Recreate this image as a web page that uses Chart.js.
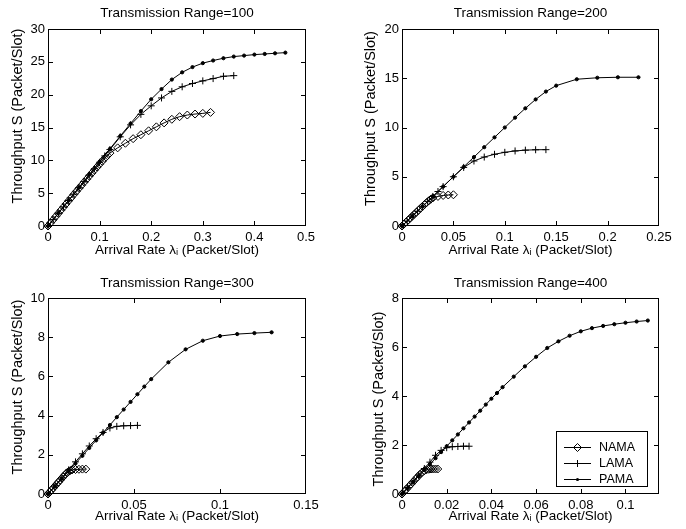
<!DOCTYPE html>
<html>
<head>
<meta charset="utf-8">
<script src="https://cdn.jsdelivr.net/npm/chart.js@4.4.1/dist/chart.umd.min.js"></script>
<style>
  html, body { margin: 0; padding: 0; background: #fff; }
  #wrap { position: relative; width: 686px; height: 529px; }
  canvas { position: absolute; }
</style>
</head>
<body>
<div id="wrap">
  <canvas id="c100" width="343" height="265" style="left:0;top:0"></canvas>
  <canvas id="c200" width="343" height="265" style="left:343px;top:0"></canvas>
  <canvas id="c300" width="343" height="264" style="left:0;top:265px"></canvas>
  <canvas id="c400" width="343" height="264" style="left:343px;top:265px"></canvas>
</div>
<script>
// Transmission range 100
const r100NamaX = [0, 0.005, 0.01, 0.015, 0.02, 0.025, 0.03, 0.035, 0.04, 0.045, 0.05, 0.055, 0.06, 0.065, 0.07, 0.075, 0.08, 0.085, 0.09, 0.095, 0.1, 0.105, 0.11, 0.115, 0.12, 0.135, 0.15, 0.165, 0.18, 0.195, 0.21, 0.225, 0.24, 0.255, 0.27, 0.285, 0.3, 0.315];
const r100NamaY = [0, 0.48, 0.96, 1.44, 1.92, 2.4, 2.88, 3.36, 3.84, 4.32, 4.8, 5.27, 5.74, 6.2, 6.67, 7.13, 7.6, 8.06, 8.52, 8.97, 9.42, 9.86, 10.3, 10.71, 11.1, 11.9, 12.6, 13.3, 13.9, 14.5, 15.1, 15.7, 16.25, 16.65, 16.9, 17.05, 17.15, 17.3];
const r100LamaX = [0, 0.01, 0.02, 0.03, 0.04, 0.05, 0.06, 0.07, 0.08, 0.09, 0.1, 0.11, 0.12, 0.14, 0.16, 0.18, 0.2, 0.22, 0.24, 0.26, 0.28, 0.3, 0.32, 0.34, 0.36];
const r100LamaY = [0, 0.97, 1.94, 2.91, 3.88, 4.85, 5.82, 6.79, 7.76, 8.73, 9.7, 10.67, 11.64, 13.58, 15.4, 17.0, 18.3, 19.5, 20.5, 21.2, 21.7, 22.1, 22.45, 22.8, 22.9];
const r100PamaX = [0, 0.02, 0.04, 0.06, 0.08, 0.1, 0.12, 0.14, 0.16, 0.18, 0.2, 0.22, 0.24, 0.26, 0.28, 0.3, 0.32, 0.34, 0.36, 0.38, 0.4, 0.42, 0.44, 0.46];
const r100PamaY = [0, 1.96, 3.92, 5.88, 7.84, 9.8, 11.75, 13.7, 15.6, 17.5, 19.3, 20.85, 22.3, 23.4, 24.2, 24.8, 25.2, 25.55, 25.8, 25.95, 26.1, 26.2, 26.3, 26.4];
const r100XTicks = [0, 0.1, 0.2, 0.3, 0.4, 0.5];
const r100YTicks = [0, 5, 10, 15, 20, 25, 30];

// Transmission range 200
const r200NamaX = [0, 0.002, 0.004, 0.006, 0.008, 0.01, 0.012, 0.014, 0.016, 0.018, 0.02, 0.022, 0.024, 0.026, 0.028, 0.03, 0.035, 0.04, 0.045, 0.05];
const r200NamaY = [0, 0.2, 0.4, 0.6, 0.8, 1.0, 1.2, 1.4, 1.6, 1.8, 2.0, 2.19, 2.38, 2.56, 2.72, 2.85, 3.0, 3.1, 3.15, 3.17];
const r200LamaX = [0, 0.005, 0.01, 0.015, 0.02, 0.025, 0.03, 0.035, 0.04, 0.05, 0.06, 0.07, 0.08, 0.09, 0.1, 0.11, 0.12, 0.13, 0.14];
const r200LamaY = [0, 0.5, 1.0, 1.5, 2.0, 2.5, 3.0, 3.5, 4.0, 5.0, 5.95, 6.6, 7.0, 7.28, 7.48, 7.62, 7.7, 7.74, 7.75];
const r200PamaX = [0, 0.01, 0.02, 0.03, 0.04, 0.05, 0.06, 0.07, 0.08, 0.09, 0.1, 0.11, 0.12, 0.13, 0.14, 0.15, 0.17, 0.19, 0.21, 0.23];
const r200PamaY = [0, 1, 2, 3, 4, 5, 6, 7, 8, 9, 10, 11, 11.95, 12.85, 13.65, 14.25, 14.9, 15.05, 15.1, 15.1];
const r200XTicks = [0, 0.05, 0.1, 0.15, 0.2, 0.25];
const r200YTicks = [0, 5, 10, 15, 20];

// Transmission range 300
const r300NamaX = [0, 0.001, 0.002, 0.003, 0.004, 0.005, 0.006, 0.007, 0.008, 0.009, 0.01, 0.011, 0.012, 0.013, 0.014, 0.016, 0.018, 0.02, 0.022];
const r300NamaY = [0, 0.1, 0.2, 0.3, 0.4, 0.5, 0.6, 0.7, 0.8, 0.9, 1.0, 1.08, 1.15, 1.2, 1.23, 1.25, 1.26, 1.27, 1.27];
const r300LamaX = [0, 0.004, 0.008, 0.012, 0.016, 0.02, 0.024, 0.028, 0.032, 0.036, 0.04, 0.044, 0.048, 0.052];
const r300LamaY = [0, 0.41, 0.82, 1.23, 1.64, 2.05, 2.45, 2.82, 3.14, 3.37, 3.45, 3.48, 3.49, 3.5];
const r300PamaX = [0, 0.004, 0.008, 0.012, 0.016, 0.02, 0.024, 0.028, 0.032, 0.036, 0.04, 0.044, 0.048, 0.052, 0.056, 0.06, 0.07, 0.08, 0.09, 0.1, 0.11, 0.12, 0.13];
const r300PamaY = [0, 0.39, 0.78, 1.17, 1.56, 1.95, 2.35, 2.74, 3.13, 3.52, 3.92, 4.31, 4.7, 5.09, 5.48, 5.86, 6.72, 7.38, 7.82, 8.06, 8.16, 8.21, 8.25];
const r300XTicks = [0, 0.05, 0.1, 0.15];
const r300YTicks = [0, 2, 4, 6, 8, 10];

// Transmission range 400
const r400NamaX = [0, 0.001, 0.002, 0.003, 0.004, 0.005, 0.006, 0.007, 0.008, 0.009, 0.01, 0.011, 0.012, 0.013, 0.014, 0.015, 0.016];
const r400NamaY = [0, 0.1, 0.2, 0.3, 0.4, 0.5, 0.6, 0.7, 0.8, 0.88, 0.95, 0.99, 1.01, 1.02, 1.02, 1.02, 1.02];
const r400LamaX = [0, 0.0025, 0.005, 0.0075, 0.01, 0.0125, 0.015, 0.0175, 0.02, 0.0225, 0.025, 0.0275, 0.03];
const r400LamaY = [0, 0.26, 0.52, 0.78, 1.04, 1.3, 1.58, 1.78, 1.89, 1.93, 1.94, 1.95, 1.95];
const r400PamaX = [0, 0.0025, 0.005, 0.0075, 0.01, 0.0125, 0.015, 0.0175, 0.02, 0.0225, 0.025, 0.0275, 0.03, 0.0325, 0.035, 0.0375, 0.04, 0.0425, 0.045, 0.05, 0.055, 0.06, 0.065, 0.07, 0.075, 0.08, 0.085, 0.09, 0.095, 0.1, 0.105, 0.11];
const r400PamaY = [0, 0.24, 0.49, 0.73, 0.98, 1.22, 1.46, 1.71, 1.95, 2.19, 2.43, 2.68, 2.92, 3.16, 3.4, 3.65, 3.89, 4.12, 4.36, 4.79, 5.21, 5.6, 5.96, 6.23, 6.46, 6.64, 6.77, 6.86, 6.93, 6.99, 7.04, 7.08];
const r400XTicks = [0, 0.02, 0.04, 0.06, 0.08, 0.1];
const r400YTicks = [0, 2, 4, 6, 8];

const seriesNames = ["NAMA", "LAMA", "PAMA"];
const FONT = '"Liberation Sans", Arial, Helvetica, sans-serif';

Chart.defaults.font.family = FONT;
Chart.defaults.font.size = 13;
Chart.defaults.color = "#000";

const styles = {
  NAMA: { pointStyle: "rectRot", pointRadius: 4, pointBackgroundColor: "rgba(0,0,0,0)" },
  LAMA: { pointStyle: "cross", pointRadius: 3.5, pointBackgroundColor: "rgba(0,0,0,0)" },
  PAMA: { pointStyle: "circle", pointRadius: 1.6, pointBackgroundColor: "#000" }
};

function pts(xs, ys) {
  return xs.map((x, i) => ({ x: x, y: ys[i] }));
}

// legend marker, same shapes as the dataset points
function marker(ctx, style, x, y) {
  const r = style.pointRadius;
  ctx.beginPath();
  if (style.pointStyle === "rectRot") {
    ctx.moveTo(x, y - r); ctx.lineTo(x + r, y); ctx.lineTo(x, y + r); ctx.lineTo(x - r, y); ctx.closePath();
    ctx.stroke();
  } else if (style.pointStyle === "cross") {
    ctx.moveTo(x - r, y); ctx.lineTo(x + r, y); ctx.moveTo(x, y - r); ctx.lineTo(x, y + r);
    ctx.stroke();
  } else {
    ctx.arc(x, y, r, 0, Math.PI * 2);
    ctx.fill();
  }
}

// Matlab style box, inward ticks on all sides, title, y label, legend
const matlabAxes = {
  id: "matlabAxes",
  afterDraw(chart, args, opts) {
    const { ctx, chartArea: a, scales: { x, y } } = chart;
    const L = Math.round(a.left), R = Math.round(a.right) - 1;
    const T = Math.round(a.top), B = Math.round(a.bottom) - 1;
    ctx.save();
    ctx.setTransform(1, 0, 0, 1, 0, 0);
    ctx.globalAlpha = 1;
    ctx.globalCompositeOperation = "source-over";
    ctx.setLineDash([]);
    ctx.lineWidth = 1;
    ctx.strokeStyle = "#000";
    ctx.fillStyle = "#000";

    // box
    ctx.fillRect(L, T, R - L + 1, 1);
    ctx.fillRect(L, B, R - L + 1, 1);
    ctx.fillRect(L, T, 1, B - T + 1);
    ctx.fillRect(R, T, 1, B - T + 1);
    // ticks pointing inwards
    opts.xTicks.forEach((v) => {
      const px = Math.min(R, Math.round(x.getPixelForValue(v)));
      ctx.fillRect(px, B - 4, 1, 4);
      ctx.fillRect(px, T + 1, 1, 4);
    });
    opts.yTicks.forEach((v) => {
      const py = Math.min(B, Math.round(y.getPixelForValue(v)));
      ctx.fillRect(L + 1, py, 4, 1);
      ctx.fillRect(R - 4, py, 4, 1);
    });

    ctx.textAlign = "center";
    ctx.textBaseline = "middle";
    ctx.font = "13.5px " + FONT;
    ctx.fillText(opts.title, (a.left + a.right) / 2, opts.titleY);

    ctx.save();
    ctx.translate(opts.yLabelX, opts.yLabelY);
    ctx.rotate(-Math.PI / 2);
    ctx.font = "14.5px " + FONT;
    ctx.fillText("Throughput S (Packet/Slot)", 0, 0);
    ctx.restore();

    if (opts.legend) {
      const bw = 92, bh = 56;
      const bx = R - 10 - bw, by = B - 6 - bh;
      ctx.fillStyle = "#fff";
      ctx.fillRect(bx, by, bw, bh);
      ctx.fillStyle = "#000";
      ctx.fillRect(bx, by, bw, 1);
      ctx.fillRect(bx, by + bh - 1, bw, 1);
      ctx.fillRect(bx, by, 1, bh);
      ctx.fillRect(bx + bw - 1, by, 1, bh);
      ctx.font = "12.5px " + FONT;
      ctx.textAlign = "left";
      seriesNames.forEach((name, i) => {
        const ry = Math.round(by + 16 + i * 16.2);
        ctx.fillRect(bx + 8, ry, 27, 1);
        marker(ctx, styles[name], bx + 21.5, ry + 0.5);
        ctx.fillText(name, bx + 43, ry + 0.5);
      });
    }
    ctx.restore();
  }
};

function buildChart(id, p) {
  const canvas = document.getElementById(id);
  const H = canvas.height, W = canvas.width;
  const datasets = seriesNames.map((name, i) => Object.assign({
    label: name,
    data: pts(p.series[i][0], p.series[i][1]),
    borderColor: "#000",
    borderWidth: 1,
    pointBorderColor: "#000",
    pointBorderWidth: 1,
    tension: 0,
    fill: false,
    clip: false
  }, styles[name]));

  return new Chart(canvas, {
    type: "line",
    data: { datasets: datasets },
    options: {
      responsive: false,
      animation: false,
      events: [],
      layout: { padding: { left: 0, top: p.top, right: W - p.right, bottom: 0 } },
      plugins: {
        legend: { display: false },
        tooltip: { enabled: false },
        matlabAxes: {
          title: p.title, titleY: p.titleY, yLabelX: p.yLabelX, yLabelY: p.yLabelY,
          xTicks: p.xTicks, yTicks: p.yTicks, legend: p.legend
        }
      },
      scales: {
        x: {
          type: "linear",
          min: 0,
          max: p.xMax,
          grid: { display: false, drawTicks: false },
          border: { display: false },
          afterBuildTicks: (s) => { s.ticks = p.xTicks.map((v) => ({ value: v })); },
          afterFit: (s) => { s.height = H - p.bottom; },
          ticks: { autoSkip: false, maxRotation: 0, padding: 4, callback: (v) => String(v) },
          title: {
            display: true,
            text: "Arrival Rate \u03bb\u1d62 (Packet/Slot)",
            font: { size: 13.5 },
            padding: { top: 0, bottom: p.xLabelPad }
          }
        },
        y: {
          type: "linear",
          min: 0,
          max: p.yMax,
          grid: { display: false, drawTicks: false },
          border: { display: false },
          afterBuildTicks: (s) => { s.ticks = p.yTicks.map((v) => ({ value: v })); },
          afterFit: (s) => { s.width = p.left; },
          ticks: { autoSkip: false, padding: 3, callback: (v) => String(v) }
        }
      }
    },
    plugins: [matlabAxes]
  });
}

buildChart("c100", {
  title: "Transmission Range=100",
  series: [[r100NamaX, r100NamaY], [r100LamaX, r100LamaY], [r100PamaX, r100PamaY]],
  xTicks: r100XTicks, yTicks: r100YTicks, xMax: 0.5, yMax: 30,
  left: 48, right: 306, top: 29, bottom: 226,
  titleY: 13, yLabelX: 18, yLabelY: 116, xLabelPad: 7
});
buildChart("c200", {
  title: "Transmission Range=200",
  series: [[r200NamaX, r200NamaY], [r200LamaX, r200LamaY], [r200PamaX, r200PamaY]],
  xTicks: r200XTicks, yTicks: r200YTicks, xMax: 0.25, yMax: 20,
  left: 59, right: 316, top: 29, bottom: 226,
  titleY: 13, yLabelX: 27.5, yLabelY: 118.5, xLabelPad: 7
});
buildChart("c300", {
  title: "Transmission Range=300",
  series: [[r300NamaX, r300NamaY], [r300LamaX, r300LamaY], [r300PamaX, r300PamaY]],
  xTicks: r300XTicks, yTicks: r300YTicks, xMax: 0.15, yMax: 10,
  left: 48, right: 306, top: 33, bottom: 229,
  titleY: 18, yLabelX: 18, yLabelY: 122, xLabelPad: 5
});
buildChart("c400", {
  title: "Transmission Range=400",
  series: [[r400NamaX, r400NamaY], [r400LamaX, r400LamaY], [r400PamaX, r400PamaY]],
  xTicks: r400XTicks, yTicks: r400YTicks, xMax: 0.115, yMax: 8,
  left: 59, right: 316, top: 33, bottom: 229,
  titleY: 18, yLabelX: 36, yLabelY: 134, xLabelPad: 5, legend: true
});
</script>
</body>
</html>
